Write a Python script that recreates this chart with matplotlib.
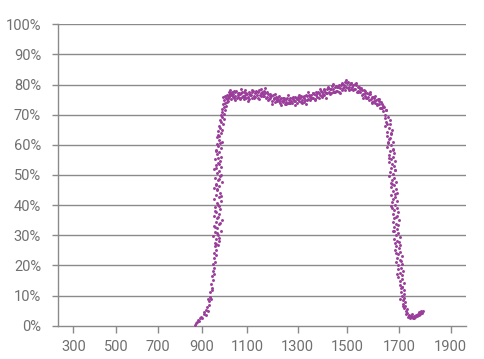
import numpy as np
import matplotlib
matplotlib.use("Agg")
import matplotlib.pyplot as plt

# ---- data (wavelength nm, transmission %) ----
rise_x = [868,874,879,884,889,893,898,903,908,912,917,920,924,927,930,933,929,936,940,938,943,946,941,949,944,952,948,955,951,958,953,961,956,964,959,
          970,957,978,963,951,972,960,983,966,955,975,962,987,969,953,978,964,981,958,972,966,985,956,975,962,980,969,954,977,964,988,970,959,981,967,975,956,984,963,972,979,960,986,968,976,962,983,971,966,988,975,969,
          964,975,968,958,979,971,960,975,983,968,961,974,986,963,978,970,964,980,973,
          978,984,972,990,980,976,993,985,979,996,988,983,999,991,1003,987,997,1008,993,1002,1012,998,1007,1016,1004,1021,1011,1026,1018,995]
rise_y = [0.3,0.8,1.2,1.8,1.5,2.6,3.0,2.4,3.8,4.5,3.6,5.2,6.1,4.8,7.0,8.2,9.0,9.6,8.8,11.2,12.5,11.8,14.0,15.2,16.5,17.0,18.3,19.2,20.5,21.1,22.6,23.4,24.2,25.0,26.3,
          26.8,27.5,28.1,28.9,29.6,30.2,31.0,31.5,32.3,33.0,33.6,34.4,35.1,35.7,36.5,37.2,37.8,38.6,39.3,40.0,40.7,41.3,42.0,42.8,43.4,44.1,44.9,45.6,46.2,47.0,47.7,48.3,49.1,49.8,50.5,51.2,51.9,52.6,53.3,54.0,54.8,55.4,56.1,56.9,57.5,58.2,59.0,59.6,60.3,61.0,61.7,62.5,
          27.1,29.2,30.8,32.7,34.0,36.0,38.1,39.7,43.0,45.2,46.6,48.8,50.1,52.2,53.7,55.8,57.8,60.6,63.2,
          63.0,63.8,64.5,65.0,65.6,66.4,66.9,67.5,68.2,68.6,69.3,70.0,70.4,71.0,71.6,72.0,72.5,73.0,73.4,74.0,74.3,74.8,75.4,75.7,76.2,76.4,75.2,76.9,76.0,75.9]

plateau_x = list(range(1012, 1649, 3))
plateau_y = [76.6,75.5,77.6,76.2,77.2,75.2,76.7,77.5,75.9,77.0,75.4,77.4,76.3,77.8,75.7,76.6,76.0,77.3,75.5,76.8,
             77.1,75.8,77.7,76.1,77.4,75.3,76.6,77.1,75.7,76.8,75.9,77.4,75.3,76.8,76.4,77.4,75.7,77.8,76.2,77.3,
             75.8,77.7,76.5,77.4,75.6,78.1,76.4,77.2,76.1,77.7,76.8,77.8,76.1,77.1,75.5,77.4,75.9,76.9,75.1,77.0,
             75.5,76.3,74.7,76.4,75.1,75.7,74.2,75.9,75.1,74.4,76.0,74.5,75.2,74.0,75.5,74.6,75.7,74.1,74.9,73.6,
             75.2,74.3,75.4,74.0,74.9,73.8,75.7,74.6,75.4,74.0,75.3,74.4,76.0,74.7,75.7,74.0,75.2,75.9,74.5,75.5,
             74.2,76.2,75.0,75.9,74.2,75.6,75.0,76.7,74.8,76.1,75.3,76.5,74.8,76.0,76.6,75.4,77.1,75.6,76.8,75.3,
             76.5,77.5,76.0,77.4,75.5,77.1,76.6,77.8,76.1,77.7,77.0,78.4,76.4,77.7,77.1,78.4,77.1,78.8,77.5,78.6,
             76.9,78.4,79.4,77.6,78.4,77.5,79.3,78.0,79.6,77.8,79.2,77.7,80.0,78.8,79.7,78.1,80.3,78.8,79.7,78.3,
             80.8,79.2,80.4,78.9,80.8,79.2,80.2,78.6,80.4,79.3,80.0,78.4,80.3,78.5,79.7,77.7,79.2,77.8,79.2,77.7,
             78.9,76.6,78.1,76.8,78.2,76.1,77.1,75.4,77.3,76.0,76.8,75.0,76.9,75.1,76.0,74.3,76.0,74.7,76.1,73.8,
             75.0,73.6,75.2,73.6,74.4,72.2,74.1,72.3,73.6,71.3,72.5,70.0,71.6]

plateau2_x = [1014,1023,1031,1040,1047,1058,1066,1074,1085,1092,1101,1110,1119,1127,1136,1146,1153,1163,1172,1181,
              1189,1199,1208,1217,1226,1235,1244,1253,1262,1271,1280,1289,1298,1307,1316,1325,1334,1343,1352,1361,
              1370,1379,1388,1397,1406,1415,1424,1433,1442,1451,1460,1469,1478,1487,1496,1505,1514,1523,1532,1541,
              1550,1559,1568,1577,1586,1595,1604,1613,1622,1631,1640]
plateau2_y = [74.7,78.3,76.4,78.0,74.8,77.1,75.1,78.4,76.0,78.1,74.5,76.7,78.3,75.5,77.8,75.2,78.4,76.3,78.7,74.8,
              76.3,73.6,76.8,74.8,76.2,73.2,75.5,73.4,76.4,74.0,76.0,73.3,75.3,76.6,73.8,76.1,73.7,77.6,75.5,77.3,
              74.8,77.1,78.6,75.8,78.2,75.7,79.3,77.3,80.3,77.4,79.2,77.3,80.5,79.1,81.4,78.1,80.5,78.1,80.6,77.7,
              78.4,75.5,78.0,75.7,77.4,74.0,75.7,73.2,75.1,72.1,72.8]

fall_x = [1656,1644,1665,1651,1664,1645,1660,1673,1654,1668,1652,1667,1663,1676,1658,1669,1654,1675,1664,1679,
          1660,1676,1669,1684,1661,1673,1681,1668,1684,1666,1678,1662,1682,1672,1690,1670,1679,1668,1687,1677,
          1691,1669,1685,1676,1691,1674,1685,1669,1691,1681,1695,1676,1691,1680,1699,1675,1688,1696,1682,1692,
          1677,1696,1687,1703,1682,1694,1686,1703,1690,1700,1686,1705,1695,1711,1693,1703,1689,1710,1698,1709,
          1695,1715,1702,1713,1697,1711,1702,1718,1702,1712,1707,1719,1706,1718,1711,1721,1714,1722,1714,1724,
          1721,1729,1726,
          1732,1735,1738,1742,1745,1749,1752,1755,1759,1762,1766,1769,1773,1776,1779,1782,1785,1788,1791,
          1648,1655,1670,1659,1677,1663,1683,1671,1686,1672,1690,1679,1699,1688,1706,1694,1712,1704,1717,1726,1740,1757,1771,1784]
fall_y = [69.4,68.8,68.1,67.5,66.9,66.2,65.6,65.0,64.3,63.7,63.1,62.4,61.8,61.1,60.5,59.9,59.2,58.6,58.0,57.3,
          56.7,56.1,55.4,54.8,54.2,53.5,52.9,52.3,51.6,51.0,50.4,49.7,49.1,48.5,47.8,47.2,46.6,45.9,45.3,44.7,
          44.0,43.4,42.8,42.1,41.5,40.9,40.2,39.6,39.0,38.3,37.7,37.1,36.4,35.8,35.2,34.5,33.9,33.3,32.6,32.0,
          31.4,30.7,30.1,29.5,28.8,28.2,27.6,26.9,26.3,25.7,25.0,24.4,23.8,23.1,22.5,21.9,21.2,20.6,20.0,19.3,
          18.7,18.1,17.4,16.8,16.2,15.5,14.9,14.3,13.6,13.0,12.4,11.7,11.1,10.5,9.8,9.2,8.6,7.9,7.3,6.7,
          6.0,5.4,4.8,
          4.2,3.0,3.6,2.6,3.3,2.8,3.8,2.5,3.2,2.9,3.6,3.1,4.0,3.4,4.4,3.9,4.8,4.3,5.0,
          71.5,67.0,64.0,61.0,58.2,55.5,51.5,47.0,43.6,39.2,36.2,31.5,27.8,24.2,21.5,17.0,12.8,9.0,6.4,3.8,3.3,2.7,3.5,4.2]

x_ticks = [300, 500, 700, 900, 1100, 1300, 1500, 1700, 1900]
y_ticks = [0, 10, 20, 30, 40, 50, 60, 70, 80, 90, 100]
y_labels = [f"{v}%" for v in y_ticks]

# axis is not uniformly spaced: tick values -> relative screen position
knot_vals = [100, 300, 500, 700, 900, 1100, 1300, 1500, 1700, 1900, 2100]
knot_pos = [30.6, 73.3, 116.0, 158.3, 201.7, 247.3, 297.7, 347.3, 399.0, 450.7, 502.4]

def fwd(v):
    return np.interp(v, knot_vals, knot_pos)

def inv(p):
    return np.interp(p, knot_pos, knot_vals)

xs = np.array(rise_x + plateau_x[:len(plateau_y)] + plateau2_x + fall_x, dtype=float)
ys = np.array(rise_y + plateau_y + plateau2_y + fall_y, dtype=float)

plt.rcParams['font.family'] = ['Roboto', 'DejaVu Sans']
fig = plt.figure(figsize=(4.85, 3.59), dpi=100)
ax = fig.add_axes([57.7/485, 1-325.7/359, (465.7-57.7)/485, (325.7-24.3)/359])
ax.set_xscale('function', functions=(fwd, inv))

gcol = '#8a8a8a'
tcol = '#707070'
for v in y_ticks[1:]:
    ax.axhline(v, color=gcol, lw=1.0, zorder=1)

ax.scatter(xs, ys, s=4.5, color='#9b3d9b', linewidths=0, zorder=3)

ax.set_xlim(226.9, 1958)
ax.set_ylim(0, 100)
ax.set_xticks(x_ticks)
ax.set_xticklabels([str(v) for v in x_ticks])
ax.set_yticks(y_ticks)
ax.set_yticklabels(y_labels)
ax.minorticks_off()
for s in ['top', 'right']:
    ax.spines[s].set_visible(False)
for s in ['left', 'bottom']:
    ax.spines[s].set_color(gcol)
    ax.spines[s].set_linewidth(1.0)
ax.tick_params(axis='y', length=4, width=1, color=gcol, labelcolor=tcol, labelsize=10.5, pad=8)
ax.tick_params(axis='x', length=5, width=1, color=gcol, labelcolor=tcol, labelsize=10.5, pad=5)

fig.savefig('out.png', dpi=100)
